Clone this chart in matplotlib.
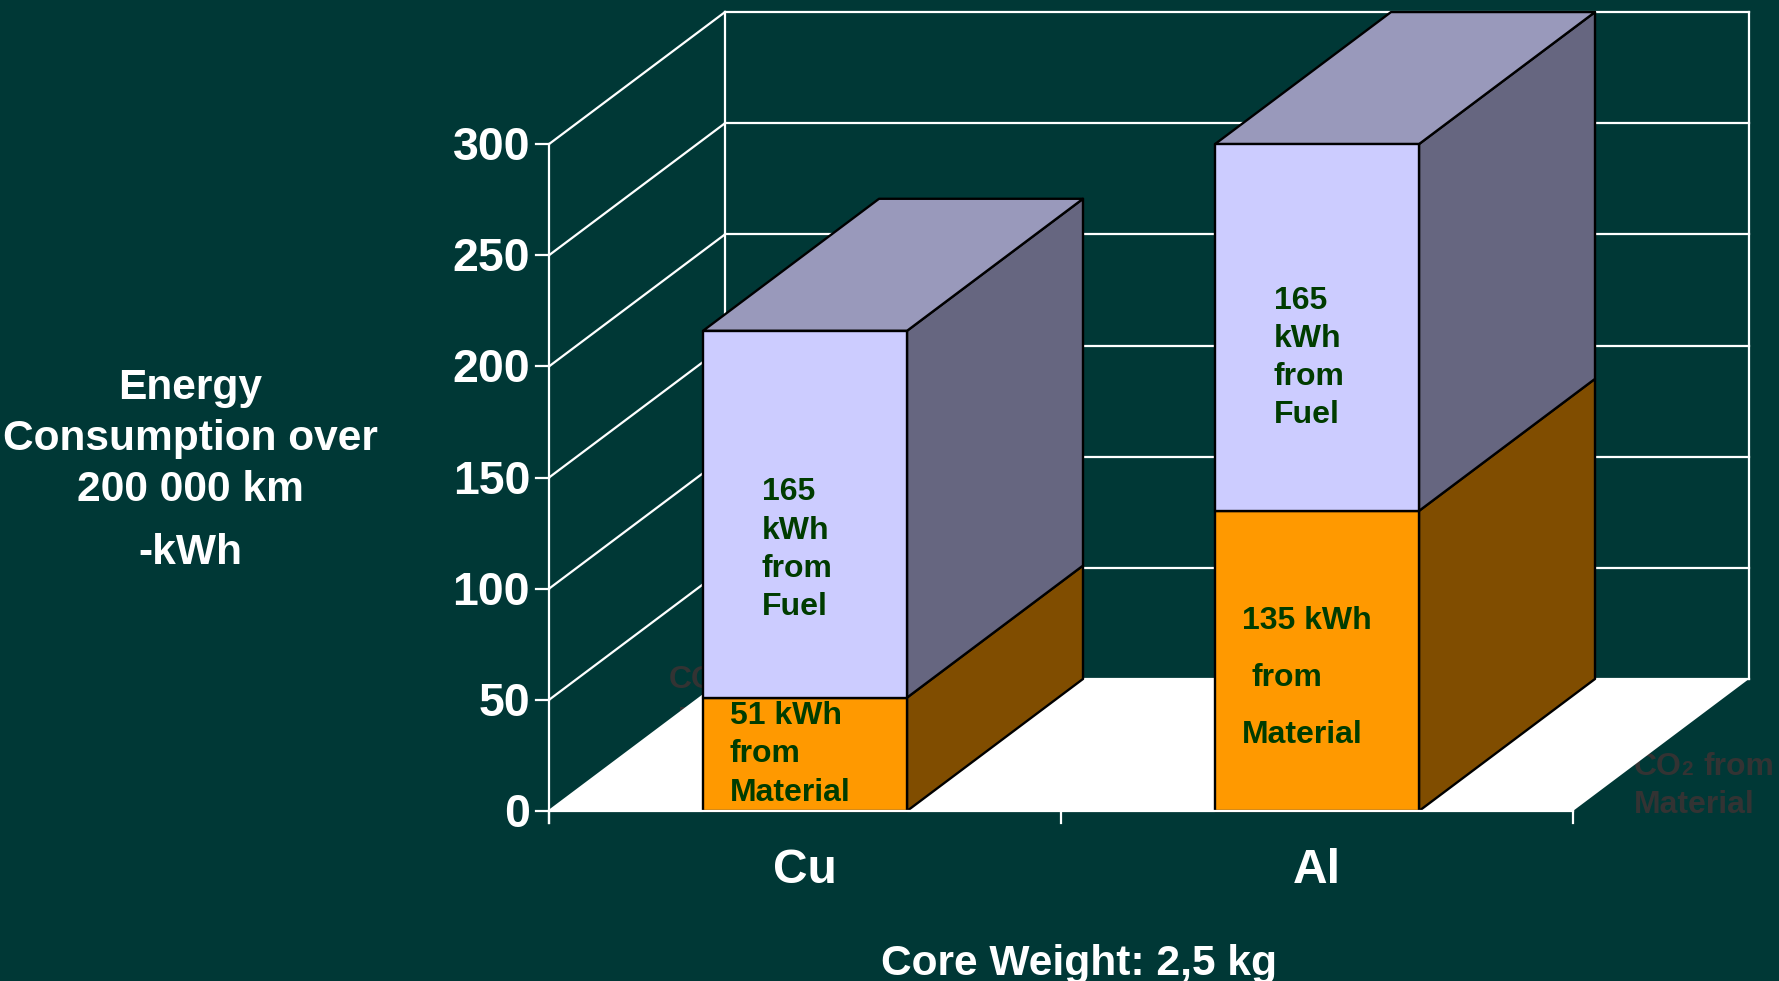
import matplotlib
matplotlib.use("Agg")
import matplotlib.pyplot as plt
from matplotlib.patches import Polygon

categories = ["Cu", "Al"]
material_kwh = [51, 135]
fuel_kwh = [165, 165]
y_ticks = [0, 50, 100, 150, 200, 250, 300]

material_notes = [["51 kWh", "from", "Material"], ["135 kWh", "from", "Material"]]
fuel_note = ["165", "kWh", "from", "Fuel"]
side_title = ["Energy", "Consumption over", "200 000 km", "-kWh"]
footer = "Core Weight: 2,5 kg"

BG = "#003836"
NOTE = "#003c00"
GHOST = "#333333"
FONT = "Liberation Sans"
W, H = 1779, 981

# pseudo-3D set up, same look as the old spreadsheet chart
X0, PX_PER_CAT = 549, 512
Y0, PX_PER_KWH = 811, 2.223
DEPTH_X = 176 / PX_PER_CAT
DEPTH_Y = 59.4
BAR_W = 204 / PX_PER_CAT

plt.rcParams["font.family"] = [FONT, "DejaVu Sans"]
plt.rcParams["font.weight"] = "bold"

fig = plt.figure(figsize=(W / 100, H / 100), dpi=100, facecolor=BG)
ax = fig.add_axes([0, 0, 1, 1])
ax.set_xlim(-X0 / PX_PER_CAT, (W - X0) / PX_PER_CAT)
ax.set_ylim((Y0 - H) / PX_PER_KWH, Y0 / PX_PER_KWH)
ax.axis("off")


def put_text(x, y, s, size, color="white", ha="left", z=10):
    # x, y in picture pixels, y is the baseline
    tx = (x - X0) / PX_PER_CAT
    ty = (Y0 - y) / PX_PER_KWH
    ax.text(tx, ty, s, fontsize=size, color=color, ha=ha, va="baseline",
            fontweight="bold", zorder=z)


def box_faces(x_left, low, high, front, side, top=None):
    x_right = x_left + BAR_W
    edge = dict(ec="black", lw=1.7, zorder=5, joinstyle="round")
    ax.add_patch(Polygon([(x_right, low), (x_right + DEPTH_X, low + DEPTH_Y),
                          (x_right + DEPTH_X, high + DEPTH_Y), (x_right, high)],
                         fc=side, **edge))
    if top:
        ax.add_patch(Polygon([(x_left, high), (x_right, high),
                              (x_right + DEPTH_X, high + DEPTH_Y), (x_left + DEPTH_X, high + DEPTH_Y)],
                             fc=top, **edge))
    ax.add_patch(Polygon([(x_left, low), (x_right, low), (x_right, high), (x_left, high)],
                         fc=front, **{**edge, "zorder": 6}))


n = len(categories)
y_top = y_ticks[-1]

# floor
ax.add_patch(Polygon([(0, 0), (n, 0), (n + DEPTH_X, DEPTH_Y), (DEPTH_X, DEPTH_Y)],
                     fc="white", ec="none", zorder=2))

# walls and grid
grid = dict(color="white", lw=1.6, zorder=3, solid_capstyle="projecting")
for v in y_ticks:
    ax.plot([0, DEPTH_X], [v, v + DEPTH_Y], **grid)
    ax.plot([DEPTH_X, n + DEPTH_X], [v + DEPTH_Y, v + DEPTH_Y], **grid)
    ax.plot([-13 / PX_PER_CAT, 0], [v, v], **grid)
ax.plot([0, 0], [-12 / PX_PER_KWH, y_top], **grid)
ax.plot([DEPTH_X, DEPTH_X], [DEPTH_Y, y_top + DEPTH_Y], **grid)
ax.plot([n + DEPTH_X, n + DEPTH_X], [DEPTH_Y, y_top + DEPTH_Y], **grid)
for i in range(n + 1):
    ax.plot([i, i], [-12 / PX_PER_KWH, 0], **grid)

# stacked boxes
for i in range(n):
    left = i + 0.5 - BAR_W / 2
    box_faces(left, 0, material_kwh[i], "#ff9900", "#804d00")
    box_faces(left, material_kwh[i], material_kwh[i] + fuel_kwh[i], "#ccccff", "#666680", "#9999bb")
ax.plot([0, n], [0, 0], color="white", lw=1.6, zorder=7)

# leftover labels of the slide, under the floor and the boxes
for gx, gy, mx, my in [(669, 688, 678, 729), (1634, 775, 1634, 813)]:
    put_text(gx, gy, "CO", 23, color=GHOST, z=1)
    put_text(gx + 47, gy, "2", 15, color=GHOST, z=1)
    put_text(gx + 70, gy, "from", 23, color=GHOST, z=1)
    put_text(mx, my, "Material", 23, color=GHOST, z=1)

# tick labels
for v in y_ticks:
    py = Y0 - v * PX_PER_KWH
    put_text(530, py + 16, str(v), 33.5, ha="right")
for i, c in enumerate(categories):
    put_text(X0 + (i + 0.5) * PX_PER_CAT, 883, c, 34.5, ha="center")

# notes on the boxes
for s, y in zip(fuel_note, [500, 539, 577, 615]):
    put_text(762, y, s, 23, color=NOTE)
for s, y in zip(fuel_note, [309, 347, 385, 423]):
    put_text(1274, y, s, 23, color=NOTE)
for s, y in zip(material_notes[0], [724, 762, 801]):
    put_text(730, y, s, 23, color=NOTE)
for s, x, y in zip(material_notes[1], [1242, 1251, 1242], [629, 686, 743]):
    put_text(x, y, s, 23, color=NOTE)

# side title and footer
for s, y in zip(side_title, [399, 450, 501, 564]):
    put_text(190, y, s, 30.6, ha="center")
put_text(1079, 975, footer, 30.6, ha="center")

fig.savefig("out.png", dpi=100, facecolor=BG)
